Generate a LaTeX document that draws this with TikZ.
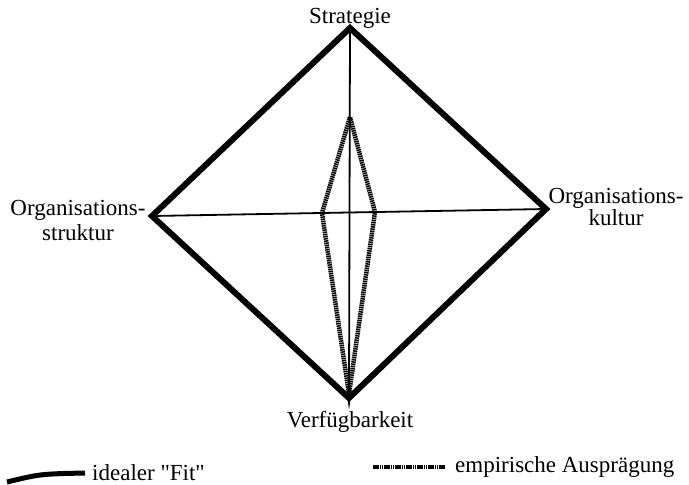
\documentclass[tikz,border=0pt]{standalone}
\usepackage{fontspec}
\setmainfont{Liberation Serif}
\newfontfamily\plainq{Liberation Serif}
\begin{document}
\begin{tikzpicture}[x=1pt,y=-1pt,
  lbl/.style={font=\fontsize{23}{24}\selectfont, inner sep=0pt},
  outline/.style={line width=6pt, line join=miter, line cap=butt},
  axis/.style={line width=1.8pt},
  empir/.style={line width=4.5pt, dash pattern=on 1.5pt off 0.7pt}]
\useasboundingbox (0,0) rectangle (689,485);
\coordinate (T) at (350,28);
\coordinate (L) at (152,216);
\coordinate (R) at (546,209);
\coordinate (B) at (349,398);
\coordinate (it) at (350,117);
\coordinate (il) at (322,213);
\coordinate (ir) at (375,212);
\coordinate (ib) at (349,394);
% axes
\draw[axis] (T) -- (B);
\draw[axis] (L) -- (R);
% empirical
\draw[empir] (it) -- (il) -- (ib) -- (ir) -- cycle;
% ideal fit
\draw[outline] (T) -- (R) -- (B) -- (L) -- cycle;
% labels
\node[lbl, anchor=base] (s) at (350,23) {Strategie};
\node[lbl, anchor=base] (v) at (350,427) {Verfügbarkeit};
\node[lbl, align=center, anchor=base] (os) at (78,240) {Organisations-\\[1pt]struktur};
\node[lbl, align=center, anchor=base] (ok) at (616,225) {Organisations-\\[-2pt]kultur};
% legend
\coordinate (l1a) at (7,482);
\coordinate (l1b) at (85,473);
\draw[line width=5pt] (l1a) .. controls (40,474) .. (l1b);
\node[lbl, anchor=base west] (lf) at (92,480) {idealer {\plainq"}Fit{\plainq"}};
\coordinate (l2a) at (373,467);
\coordinate (l2b) at (445,467);
\draw[empir] (l2a) -- (l2b);
\node[lbl, anchor=base west] (le) at (455,472) {empirische Ausprägung};
\end{tikzpicture}
\end{document}
